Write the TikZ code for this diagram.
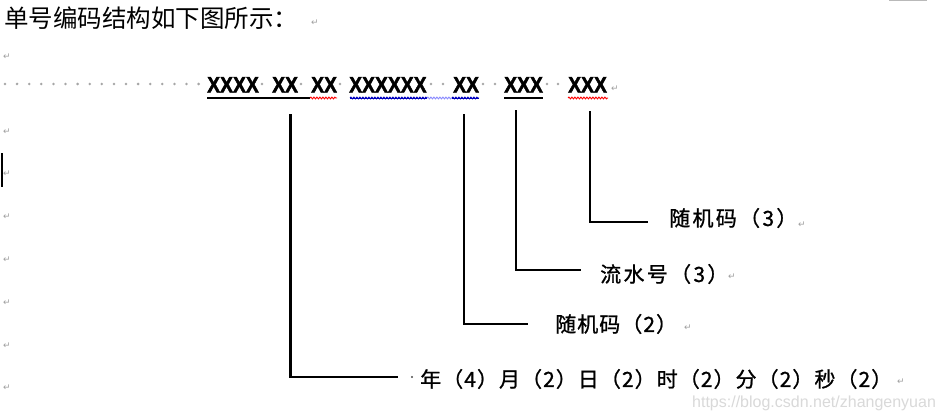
\documentclass[tikz,border=0pt]{standalone}
\usepackage{fontspec}
\setmainfont{Liberation Sans}
\newfontfamily\cjk{Noto Sans CJK SC}
\newfontfamily\cjkA{Noto Sans CJK SC}[LetterSpace=11, FakeBold=1]
\newfontfamily\cjkB{Noto Sans CJK SC}[LetterSpace=5, FakeBold=1]
\newfontfamily\cjkC{Noto Sans CJK SC}[LetterSpace=5, FakeBold=1]
\newfontfamily\xfont{Liberation Sans Bold}[FakeStretch=0.86, FakeBold=2]
\newfontfamily\symfont{DejaVu Sans}
\usetikzlibrary{decorations.pathmorphing}
\begin{document}
\begin{tikzpicture}[x=1pt,y=-1pt,
  pmark/.style={inner sep=0, text=gray!75, font=\symfont\fontsize{9}{9}\selectfont},
  sdot/.style={fill=gray!70},
  xtxt/.style={anchor=base west, inner sep=0, font=\xfont\fontsize{22.5}{22.5}\selectfont},
  lab/.style={anchor=west, inner sep=0, font=\fontsize{21}{21}\selectfont},
  conn/.style={line width=2.3pt},
  uline/.style={line width=2.6pt},
  wavy/.style={decorate, decoration={snake, amplitude=0.9pt, segment length=3pt}, line width=0.9pt}
]
\useasboundingbox (0,0) rectangle (943,420);
\fill[white] (0,0) rectangle (943,420);
% top gray bar and cursor
\fill[gray!55] (889,0) rectangle (927,1.4);
\draw[line width=1.2pt] (2,153) -- (2,187);
% title
\node[anchor=west, inner sep=0, font=\cjk\fontsize{24.5}{24.5}\selectfont] (title) at (4,18) {单号编码结构如下图所示：};
% paragraph marks
\node[pmark] (pm1) at (315,23) {↵};
\node[pmark] (pm2) at (7,57) {↵};
\foreach \yy [count=\k] in {132,174,217,260,303,346,388}
  \node[pmark] (pl\k) at (7,\yy) {↵};
% leader dots
\foreach \i in {0,...,16} \fill[sdot] (5+12.1*\i,84) circle (1.4pt);
\foreach \xx in {262,301,340,431,443,483,495,547,558} \fill[sdot] (\xx,84) circle (1.4pt);
% code groups
\node[xtxt] (g1) at (207,92.5) {XXXX};
\node[xtxt] (g2) at (272,92.5) {XX};
\node[xtxt] (g3) at (311,92.5) {XX};
\node[xtxt] (g4) at (349,92.5) {XXXXXX};
\node[xtxt] (g5) at (453,92.5) {XX};
\node[xtxt] (g6) at (504,92.5) {XXX};
\node[xtxt] (g7) at (568,92.5) {XXX};
\node[pmark] (pm3) at (615,89) {↵};
% underlines
\draw[uline] (207,98) -- (310,98);
\draw[wavy, red] (310,98) -- (337,98);
\draw[line width=1.4pt, blue!75!black] (350,98.5) -- (427,98.5);
\draw[wavy, blue!75!black] (350,98) -- (427,98);
\draw[wavy, blue!45] (427,98) -- (452,98);
\draw[line width=1.4pt, blue!75!black] (452,98.5) -- (479,98.5);
\draw[wavy, blue!75!black] (452,98) -- (479,98);
\draw[uline] (504,98) -- (543,98);
\draw[wavy, red] (568,98) -- (608,98);
% labels
\node[lab, font=\cjkA\fontsize{21}{21}\selectfont] (l1) at (669,218) {随机码（3）};
\node[pmark] (pm4) at (802,225) {↵};
\node[lab, font=\cjkA\fontsize{21}{21}\selectfont] (l2) at (600,274) {流水号（3）};
\node[pmark] (pm5) at (732,277) {↵};
\node[lab, font=\cjkB\fontsize{21}{21}\selectfont] (l3) at (555,324) {随机码（2）};
\node[pmark] (pm6) at (688,328) {↵};
\fill[black!70] (412,377) circle (1.1pt);
\node[lab, font=\cjkC\fontsize{21}{21}\selectfont] (l4) at (420,379) {年（4）月（2）日（2）时（2）分（2）秒（2）};
\node[pmark] (pm7) at (901,382) {↵};
% connectors
\coordinate (t1) at (290.5,114); \coordinate (e1) at (398,377);
\coordinate (t2) at (464,114);   \coordinate (e2) at (528,324);
\coordinate (t3) at (516,110);   \coordinate (e3) at (581,270);
\coordinate (t4) at (590,111);   \coordinate (e4) at (648,222);
\draw[conn] (t1) |- (e1);
\draw[conn] (t2) |- (e2);
\draw[conn] (t3) |- (e3);
\draw[conn] (t4) |- (e4);
% watermark
\node[anchor=west, inner sep=0, text=gray!30, font=\fontsize{16}{16}\selectfont] (wm) at (692,403) {https://blog.csdn.net/zhangenyuan};
\end{tikzpicture}
\end{document}
